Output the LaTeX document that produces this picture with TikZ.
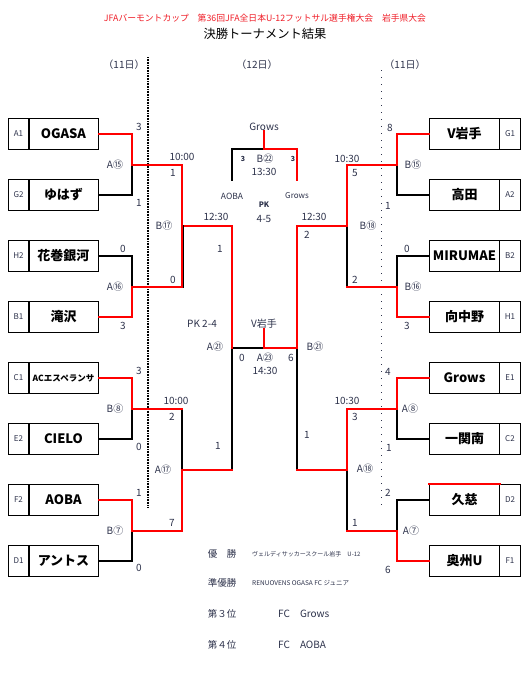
\documentclass[tikz,border=0pt]{standalone}
\usepackage{fontspec}
\setmainfont{Noto Sans CJK JP}
\usepackage{tikz}
\usepackage{xcolor}

\definecolor{lblgray}{RGB}{45,50,75}
\definecolor{titlered}{RGB}{240,30,40}

\tikzset{
  namebox/.style={draw,line width=1pt,minimum width=70pt,minimum height=31pt,inner sep=0pt,font=\fontsize{13}{14}\selectfont\bfseries},
  codebox/.style={draw,line width=1pt,minimum width=21pt,minimum height=31pt,inner sep=0pt,text=lblgray,font=\fontsize{8}{9}\selectfont},
  lbl/.style={inner sep=0pt,text=lblgray,font=\fontsize{10}{11}\selectfont},
  win/.style={draw=red,line width=2pt,line cap=rect},
  lose/.style={draw=black,line width=1.3pt,line cap=rect}
}

\begin{document}
\begin{tikzpicture}[x=1pt,y=-1pt]
    \fill[white] (0,0) rectangle (530,673);
    \useasboundingbox (0,0) rectangle (530,673);

    % Title
    \node[inner sep=0pt,text=titlered,font=\fontsize{8.8}{10}\selectfont] (head) at (265,18) {JFAバーモントカップ　第36回JFA全日本U-12フットサル選手権大会　岩手県大会};
    \node[inner sep=0pt,font=\fontsize{12.3}{13}\selectfont] (title) at (265,34) {決勝トーナメント結果};
    \node[lbl] (dayl) at (124,65) {（11日）};
    \node[lbl] (dayc) at (257,65) {（12日）};
    \node[lbl] (dayr) at (405,65) {（11日）};

    % Day separators
    \draw[line width=2pt,dash pattern=on 0.8pt off 0.8pt] (148,57) -- (148,508);
    \draw[lblgray,line width=1pt,dash pattern=on 1pt off 6pt] (381,70) -- (381,507);

    % Left teams
    \node[namebox] (ogasa) at (63.5,134) {OGASA};
    \node[codebox] (ogasacode) at (18.5,134) {A1};
    \node[namebox] (yuhazu) at (63.5,195) {ゆはず};
    \node[codebox] (yuhazucode) at (18.5,195) {G2};
    \node[namebox] (hanamaki) at (63.5,256) {花巻銀河};
    \node[codebox] (hanamakicode) at (18.5,256) {H2};
    \node[namebox] (takizawa) at (63.5,317) {滝沢};
    \node[codebox] (takizawacode) at (18.5,317) {B1};
    \node[namebox,font=\fontsize{8.5}{9}\selectfont\bfseries] (acesp) at (63.5,378) {ACエスペランサ};
    \node[codebox] (acespcode) at (18.5,378) {C1};
    \node[namebox] (cielo) at (63.5,439) {CIELO};
    \node[codebox] (cielocode) at (18.5,439) {E2};
    \node[namebox] (aoba) at (63.5,500) {AOBA};
    \node[codebox] (aobacode) at (18.5,500) {F2};
    \node[namebox] (antosu) at (63.5,561) {アントス};
    \node[codebox] (antosucode) at (18.5,561) {D1};

    % Right teams
    \node[namebox] (viwate) at (464.5,134) {V岩手};
    \node[codebox] (viwatecode) at (510,134) {G1};
    \node[namebox] (takata) at (464.5,195) {高田};
    \node[codebox] (takatacode) at (510,195) {A2};
    \node[namebox] (mirumae) at (464.5,256) {MIRUMAE};
    \node[codebox] (mirumaecode) at (510,256) {B2};
    \node[namebox] (mukai) at (464.5,317) {向中野};
    \node[codebox] (mukaicode) at (510,317) {H1};
    \node[namebox] (grows) at (464.5,378) {Grows};
    \node[codebox] (growscode) at (510,378) {E1};
    \node[namebox] (ichinoseki) at (464.5,439) {一関南};
    \node[codebox] (ichinosekicode) at (510,439) {C2};
    \node[namebox] (kuji) at (464.5,500) {久慈};
    \node[codebox] (kujicode) at (510,500) {D2};
    \node[namebox] (oshu) at (464.5,561) {奥州U};
    \node[codebox] (oshucode) at (510,561) {F1};

    % Match points
    \coordinate (a15) at (132,165);
    \coordinate (a16) at (132,287);
    \coordinate (b8) at (132,409);
    \coordinate (b7) at (132,531);
    \coordinate (b17) at (182,226);
    \coordinate (a17) at (182,470);
    \coordinate (a21) at (232,348);
    \coordinate (a23) at (264,348);
    \coordinate (b21) at (297,348);
    \coordinate (b18) at (347,226);
    \coordinate (a18) at (347,470);
    \coordinate (b15) at (397,165);
    \coordinate (b16) at (397,287);
    \coordinate (a8) at (397,409);
    \coordinate (a7) at (397,531);
    \coordinate (b22) at (264,149);
    \coordinate (b22l) at (232,180);
    \coordinate (b22r) at (297,180);

    % Final and 3rd place winners
    \node[lbl] (vfinal) at (264,324) {V岩手};
    \node[lbl] (growsthird) at (264,127) {Grows};

    % Losing lines
    \draw[lose] (yuhazu.east) -| (a15);
    \draw[lose] (hanamaki.east) -| (a16);
    \draw[lose] (cielo.east) -| (b8);
    \draw[lose] (antosu.east) -| (b7);
    \draw[lose] (b8 -| a17) -- (a17);
    \draw[lose] (a17 -| a21) -- (a21) -- (a23);
    \draw[lose] (takata.west) -| (b15);
    \draw[lose] (mirumae.west) -| (b16);
    \draw[lose] (b16 -| b18) -- (b18);
    \draw[lose] (ichinoseki.west) -| (a8);
    \draw[lose] (kuji.west) -| (a7);
    \draw[lose] (a7 -| a18) -- (a18);
    \draw[lose] (a18 -| b21) -- (b21);
    \draw[lose] (b22l) |- (b22);

    % Winning lines
    \draw[win] (ogasa.east) -| (a15) -- (a15 -| b17) -- (b17) -- (b17 -| a21) -- (a21);
    \draw[win] (takizawa.east) -| (a16) -- (a16 -| b17) -- (b17);
    \draw[lose] ([xshift=1.5pt]a16 -| b17) -- ([xshift=1.5pt]b17);
    \draw[win] (acesp.east) -| (b8) -- (b8 -| a17);
    \draw[win] (aoba.east) -| (b7) -- (b7 -| a17) -- (a17) -- (a17 -| a21);
    \draw[win] (viwate.west) -| (b15) -- (b15 -| b18) -- (b18) -- (b18 -| b21) -- (b21) -- (a23) -- (vfinal.south);
    \draw[win] (mukai.west) -| (b16) -- (b16 -| b18);
    \draw[win] (grows.west) -| (a8) -- (a8 -| a18) -- (a18) -- (a18 -| b21);
    \draw[win] (oshu.west) -| (a7) -- (a7 -| a18);
    \draw[win] (kuji.north west) -- (kuji.north east);
    \draw[win] (b22r) |- (b22) -- (growsthird.south);

    % Left scores
    \node[lbl] (s1) at (139,127) {3};
    \node[lbl] (m15a) at (115,165) {A⑮};
    \node[lbl] (s2) at (139,203) {1};
    \node[lbl] (s3) at (123,249) {0};
    \node[lbl] (m16a) at (115,287) {A⑯};
    \node[lbl] (s4) at (123,326) {3};
    \node[lbl] (t17b) at (182,157) {10:00};
    \node[lbl] (s5) at (173,173) {1};
    \node[lbl] (m17b) at (164,226) {B⑰};
    \node[lbl] (s6) at (173,280) {0};
    \node[lbl] (s7) at (139,371) {3};
    \node[lbl] (m8b) at (115,409) {B⑧};
    \node[lbl] (s8) at (139,447) {0};
    \node[lbl] (s9) at (139,493) {1};
    \node[lbl] (m7b) at (115,531) {B⑦};
    \node[lbl] (s10) at (139,568) {0};
    \node[lbl] (t17a) at (176,401) {10:00};
    \node[lbl] (s11) at (172,417) {2};
    \node[lbl] (m17a) at (163,470) {A⑰};
    \node[lbl] (s12) at (172,523) {7};

    % Center
    \node[lbl] (t21a) at (216,217) {12:30};
    \node[lbl] (s13) at (220,249) {1};
    \node[lbl] (s14) at (218,446) {1};
    \node[lbl] (pk21) at (202,324) {PK 2-4};
    \node[lbl] (m21a) at (215,347) {A㉑};
    \node[lbl,font=\fontsize{7}{8}\selectfont\bfseries] (s15) at (243,159) {3};
    \node[lbl] (m22b) at (265,159) {B㉒};
    \node[lbl,font=\fontsize{7}{8}\selectfont\bfseries] (s16) at (293,159) {3};
    \node[lbl] (t22b) at (264,172) {13:30};
    \node[lbl,font=\fontsize{8.5}{9}\selectfont] (aobathird) at (232,196) {AOBA};
    \node[lbl,font=\fontsize{8}{9}\selectfont] (growspk) at (297,196) {Grows};
    \node[lbl,font=\fontsize{7.5}{8}\selectfont\bfseries] (pk22) at (264,205) {PK};
    \node[lbl] (pk22s) at (264,219) {4-5};
    \node[lbl] (t21b) at (314,217) {12:30};
    \node[lbl] (s17) at (307,235) {2};
    \node[lbl] (s18) at (307,435) {1};
    \node[lbl] (m21b) at (315,347) {B㉑};
    \node[lbl] (s19) at (242,358) {0};
    \node[lbl] (m23a) at (265,358) {A㉓};
    \node[lbl] (s20) at (291,358) {6};
    \node[lbl] (t23a) at (265,371) {14:30};

    % Right scores
    \node[lbl] (t18b) at (347,159) {10:30};
    \node[lbl] (s21) at (355,173) {5};
    \node[lbl] (m18b) at (368,226) {B⑱};
    \node[lbl] (s22) at (355,280) {2};
    \node[lbl] (s23) at (390,128) {8};
    \node[lbl] (m15b) at (413,165) {B⑮};
    \node[lbl] (s24) at (388,206) {1};
    \node[lbl] (s25) at (407,249) {0};
    \node[lbl] (m16b) at (413,287) {B⑯};
    \node[lbl] (s26) at (407,326) {3};
    \node[lbl] (s27) at (388,372) {4};
    \node[lbl] (m8a) at (410,409) {A⑧};
    \node[lbl] (s28) at (389,448) {1};
    \node[lbl] (s29) at (388,493) {2};
    \node[lbl] (m7a) at (411,531) {A⑦};
    \node[lbl] (s30) at (388,570) {6};
    \node[lbl] (t18a) at (347,401) {10:30};
    \node[lbl] (s31) at (355,417) {3};
    \node[lbl] (m18a) at (365,469) {A⑱};
    \node[lbl] (s32) at (355,523) {1};

    % Results
    \node[lbl,font=\fontsize{9.5}{10}\selectfont] (r1) at (222,554) {優　勝};
    \node[lbl,anchor=west,font=\fontsize{6}{7}\selectfont] (r1t) at (252,554) {ヴェルディサッカースクール岩手　U-12};
    \node[lbl,font=\fontsize{9.5}{10}\selectfont] (r2) at (222,583) {準優勝};
    \node[lbl,anchor=west,font=\fontsize{6.5}{7}\selectfont] (r2t) at (252,583) {RENUOVENS OGASA FC ジュニア};
    \node[lbl,font=\fontsize{9.5}{10}\selectfont] (r3) at (222,614) {第３位};
    \node[lbl,anchor=west,font=\fontsize{10}{11}\selectfont] (r3t) at (278,614) {FC　Grows};
    \node[lbl,font=\fontsize{9.5}{10}\selectfont] (r4) at (222,645) {第４位};
    \node[lbl,anchor=west,font=\fontsize{10}{11}\selectfont] (r4t) at (278,645) {FC　AOBA};
\end{tikzpicture}
\end{document}
